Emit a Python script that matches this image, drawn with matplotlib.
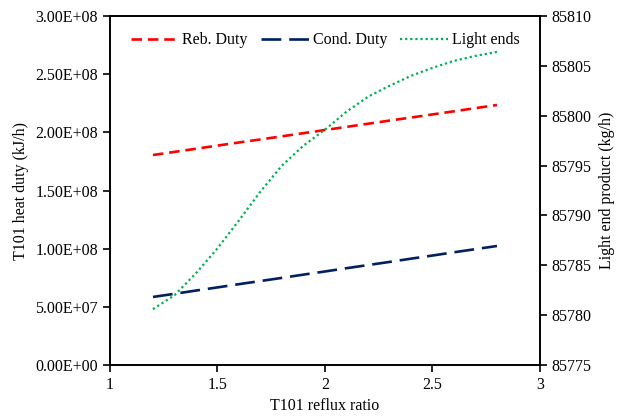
import matplotlib
matplotlib.use("Agg")
import matplotlib.pyplot as plt
from matplotlib.ticker import FuncFormatter

# reflux ratio sweep
reflux = [1.2, 1.3, 1.4, 1.5, 1.6, 1.7, 1.8, 1.9, 2.0,
          2.1, 2.2, 2.3, 2.4, 2.5, 2.6, 2.7, 2.8]

# heat duties (kJ/h)
reb_duty = [1.805e8, 1.832e8, 1.859e8, 1.886e8, 1.913e8, 1.939e8, 1.966e8, 1.993e8, 2.020e8,
            2.047e8, 2.074e8, 2.101e8, 2.127e8, 2.154e8, 2.181e8, 2.208e8, 2.235e8]
cond_duty = [5.85e7, 6.12e7, 6.40e7, 6.67e7, 6.95e7, 7.22e7, 7.49e7, 7.77e7, 8.04e7,
             8.32e7, 8.59e7, 8.86e7, 9.14e7, 9.41e7, 9.69e7, 9.96e7, 1.023e8]

# light end product (kg/h)
light_ends = [85780.6, 85782.0, 85784.2, 85786.7, 85789.5, 85792.4, 85795.0, 85797.0, 85798.6,
              85800.4, 85801.9, 85803.0, 85804.0, 85804.8, 85805.5, 85806.0, 85806.4]

plt.rcParams["font.family"] = ["Liberation Serif", "DejaVu Serif"]
plt.rcParams["font.size"] = 11.5

fig = plt.figure(figsize=(6.27, 4.16), dpi=100)
ax = fig.add_axes([0.1754, 0.1226, 0.6858, 0.8389])
ax2 = ax.twinx()

l1, = ax.plot(reflux, reb_duty, color="#FF0000", linewidth=1.9, dashes=(4, 2.2), label="Reb. Duty")
l2, = ax.plot(reflux, cond_duty, color="#002060", linewidth=1.9, dashes=(7.5, 3), label="Cond. Duty")
l3, = ax2.plot(reflux, light_ends, color="#00B050", linewidth=1.6, dashes=(1, 1.3), label="Light ends")

ax.set_xlim(1, 3)
ax.set_ylim(0, 3e8)
ax.set_xticks([1, 1.5, 2, 2.5, 3])
ax.set_xticklabels(["1", "1.5", "2", "2.5", "3"])
ax.set_yticks([0, 5e7, 1e8, 1.5e8, 2e8, 2.5e8, 3e8])
ax.yaxis.set_major_formatter(FuncFormatter(lambda v, p: f"{v:.2E}"))

ax2.set_ylim(85775, 85810)
ax2.set_yticks([85775, 85780, 85785, 85790, 85795, 85800, 85805, 85810])

for a in (ax, ax2):
    a.tick_params(direction="out", length=5, width=1.2, colors="black", labelsize=11.5)
    for s in a.spines.values():
        s.set_linewidth(1.2)
        s.set_color("black")

ax.set_xlabel("T101 reflux ratio", labelpad=4)
ax.set_ylabel("T101 heat duty (kJ/h)", labelpad=5)
ax2.set_ylabel("Light end product (kg/h)", labelpad=5)

ax.legend(handles=[l1, l2, l3], loc="upper center", ncol=3, frameon=False,
          fontsize=11.5, handlelength=3.0, columnspacing=0.8, handletextpad=0.25,
          bbox_to_anchor=(0.5, 0.995))

fig.savefig("out.png", dpi=100)
